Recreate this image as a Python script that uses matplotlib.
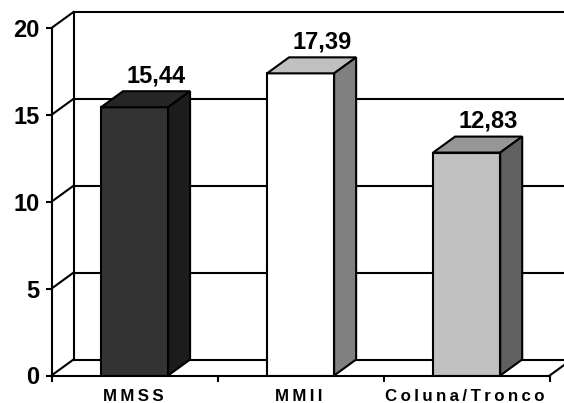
import matplotlib
matplotlib.use("Agg")
import matplotlib.pyplot as plt
from matplotlib.patches import Polygon

plt.rcParams["font.family"] = ["Liberation Sans", "DejaVu Sans"]
plt.rcParams["font.weight"] = "bold"

categories = ["MMSS", "MMII", "Coluna/Tronco"]
values = [15.44, 17.39, 12.83]
value_labels = ["15,44", "17,39", "12,83"]
yticks = [0, 5, 10, 15, 20]

front_colors = ["#333333", "#ffffff", "#c0c0c0"]
top_colors = ["#262626", "#c0c0c0", "#969696"]
side_colors = ["#1c1c1c", "#808080", "#606060"]

W, H = 564, 403
LEFT, RIGHT, BOTTOM, TOP = 51.5, 549.7, 375.5, 28
LW = 1.5

fig = plt.figure(figsize=(W / 100, H / 100), dpi=100)
ax = fig.add_axes([LEFT / W, 1 - BOTTOM / H, (RIGHT - LEFT) / W, (BOTTOM - TOP) / H])
ax.set_xlim(0, 3)
ax.set_ylim(0, 20)
ax.patch.set_visible(False)

# depth of the fake 3d box, in data units
dx = 22 / ((RIGHT - LEFT) / 3)
dy = 16 / ((BOTTOM - TOP) / 20)
bar_w = 0.404

# back wall and left wall
for y in yticks:
    ax.plot([dx, 3 + dx], [y + dy, y + dy], color="black", lw=LW, clip_on=False, zorder=1)
    ax.plot([0, dx], [y, y + dy], color="black", lw=LW, clip_on=False, zorder=1)
ax.plot([dx, dx], [dy, 20 + dy], color="black", lw=LW, clip_on=False, zorder=1)
ax.plot([3, 3 + dx], [0, dy], color="black", lw=LW, clip_on=False, zorder=1)

for i, v in enumerate(values):
    x0 = i + 0.5 - bar_w / 2
    x1 = x0 + bar_w
    ax.bar(i + 0.5, v, bar_w, color=front_colors[i], edgecolor="black", lw=LW, zorder=3)
    ax.add_patch(Polygon([(x0, v), (x1, v), (x1 + dx, v + dy), (x0 + dx, v + dy)],
                         fc=top_colors[i], ec="black", lw=LW, clip_on=False, zorder=3))
    ax.add_patch(Polygon([(x1, 0), (x1 + dx, dy), (x1 + dx, v + dy), (x1, v)],
                         fc=side_colors[i], ec="black", lw=LW, clip_on=False, zorder=3))
    ax.annotate(value_labels[i], (i + 0.5 + dx, v + dy), xytext=(0, 6.3), textcoords="offset points",
                ha="center", va="baseline", fontsize=17, fontweight="bold")

for s in ["top", "right"]:
    ax.spines[s].set_visible(False)
for s in ["left", "bottom"]:
    ax.spines[s].set_linewidth(LW)
    ax.spines[s].set_zorder(4)

ax.set_yticks(yticks)
ax.tick_params(axis="y", length=4.5, width=LW, pad=4, labelsize=17)
for lab in ax.get_yticklabels():
    lab.set_va("center_baseline")
ax.set_xticks([0, 1, 2, 3], [])
ax.tick_params(axis="x", which="major", length=4.5, width=LW)
# letters are spread out in the original
ax.set_xticks([0.49, 1.49, 2.49], ["\u2009".join(c) for c in categories], minor=True)
ax.tick_params(axis="x", which="minor", length=0, pad=9.5, labelsize=12.2)

fig.savefig("out.png", dpi=100)
